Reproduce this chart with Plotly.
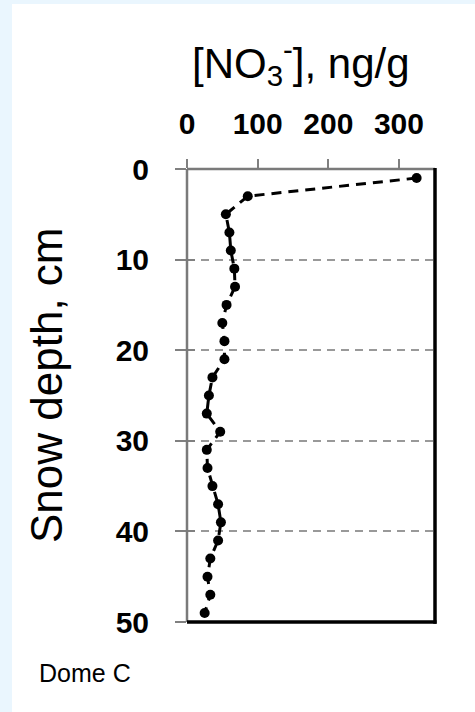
import plotly.graph_objects as go

# Data
depth_cm = [1, 3, 5, 7, 9, 11, 13, 15, 17, 19, 21, 23, 25, 27, 29, 31, 33, 35, 37, 39, 41, 43, 45, 47, 49]
no3_ngg = [325, 86, 55, 60, 62, 67, 68, 56, 50, 53, 53, 36, 31, 28, 47, 28, 29, 36, 44, 48, 44, 33, 29, 33, 25]
x_ticks = [0, 100, 200, 300]
y_ticks = [0, 10, 20, 30, 40, 50]

W, H = 475, 712
L, R, T, B = 187, 40, 169, 90
pw, ph = W - L - R, H - T - B

def px(xp):
    return (xp - L) / pw

def py(yp):
    return (H - B - yp) / ph

regular = "Liberation Sans, Arial, sans-serif"

fig = go.Figure()
fig.add_trace(go.Scatter(
    x=no3_ngg, y=depth_cm, mode="lines+markers",
    line=dict(color="black", width=3, dash="10px,7px"),
    marker=dict(color="black", size=10),
    showlegend=False, hoverinfo="x+y",
))
# invisible trace for the inner tick axis
fig.add_trace(go.Scatter(x=[0], y=[0], yaxis="y2", mode="markers",
                         marker=dict(opacity=0), showlegend=False, hoverinfo="skip"))

fig.update_layout(
    width=W, height=H,
    margin=dict(l=L, r=R, t=T, b=B),
    paper_bgcolor="#EAF6FE",
    plot_bgcolor="white",
    xaxis=dict(
        side="top", range=[0, 351], tickvals=x_ticks,
        ticks="outside", ticklen=9, tickwidth=1.5, tickcolor="#808080",
        showline=False, showgrid=False, zeroline=False,
        tickfont=dict(family=regular, size=30, color="black", weight="bold"),
        ticklabelstandoff=13,
    ),
    yaxis=dict(
        range=[50, 0], tickvals=y_ticks,
        ticks="outside", ticklen=11, tickwidth=1.5, tickcolor="#808080",
        showline=False, zeroline=False,
        showgrid=True, gridcolor="#999999", gridwidth=1.5, griddash="8px,6px",
        tickfont=dict(family=regular, size=30, color="black", weight="bold"),
        ticklabelstandoff=20,
    ),
    yaxis2=dict(
        overlaying="y", side="left", range=[50, 0], tickvals=y_ticks,
        ticks="inside", ticklen=8, tickwidth=1.5, tickcolor="#808080",
        showticklabels=False, showgrid=False, zeroline=False, showline=False,
    ),
    shapes=[
        # white page area
        dict(type="rect", xref="paper", yref="paper", layer="below",
             x0=px(12), x1=px(W + 5), y0=py(H + 5), y1=py(4),
             fillcolor="white", line=dict(width=0)),
        # plot frame
        dict(type="line", xref="paper", yref="paper", x0=0, x1=0, y0=0, y1=1,
             line=dict(color="#7a7a7a", width=2.5)),
        dict(type="line", xref="paper", yref="paper", x0=0, x1=1, y0=1, y1=1,
             line=dict(color="#7a7a7a", width=2.5)),
        dict(type="line", xref="paper", yref="paper", x0=1, x1=1, y0=-0.004, y1=1.002,
             line=dict(color="black", width=3.5)),
        dict(type="line", xref="paper", yref="paper", x0=0, x1=1.006, y0=0, y1=0,
             line=dict(color="black", width=3.5)),
    ],
    annotations=[
        dict(text="[NO<sub>3</sub><sup>-</sup>], ng/g", xref="paper", yref="paper",
             x=px(301), y=py(63), xanchor="center", yanchor="middle", showarrow=False,
             font=dict(family=regular, size=42, color="black")),
        dict(text="Snow depth, cm", xref="paper", yref="paper", textangle=-90,
             x=px(46), y=py(385), xanchor="center", yanchor="middle", showarrow=False,
             font=dict(family=regular, size=44, color="black")),
        dict(text="Dome C", xref="paper", yref="paper",
             x=px(37), y=py(673), xanchor="left", yanchor="middle", showarrow=False,
             font=dict(family=regular, size=25, color="black")),
    ],
)

fig.write_html("out.html")
